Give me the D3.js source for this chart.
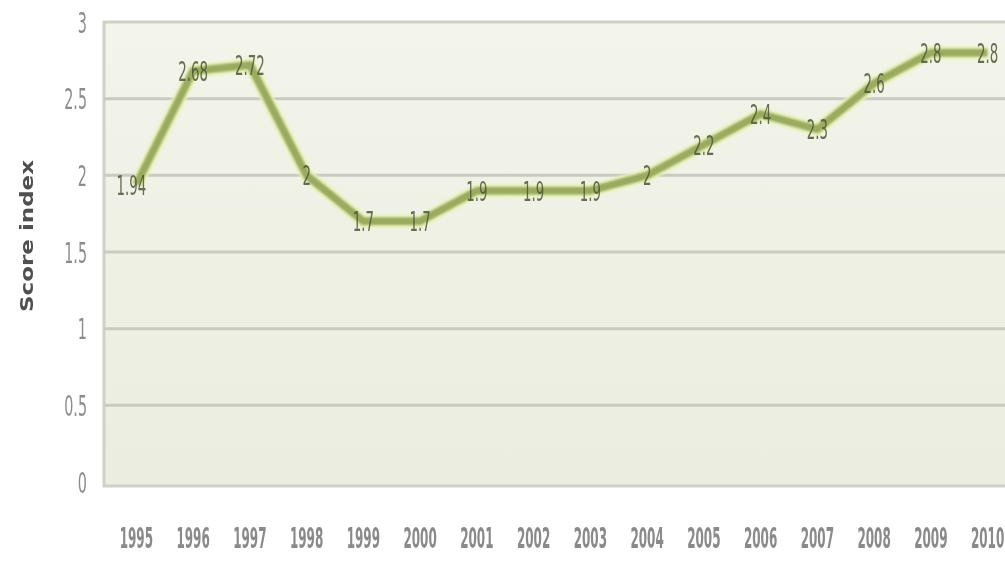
<!DOCTYPE html>
<html>
<head>
<meta charset="utf-8">
<script src="https://cdn.jsdelivr.net/npm/d3@7/dist/d3.min.js"></script>
<style>
  body { margin: 0; background: #fff; }
  svg { display: block; }
  text { font-family: "DejaVu Sans Condensed", "DejaVu Sans", sans-serif; }
</style>
</head>
<body>
<div id="chart"></div>
<script>
var years = ["1995", "1996", "1997", "1998", "1999", "2000", "2001", "2002",
             "2003", "2004", "2005", "2006", "2007", "2008", "2009", "2010"];
var scores = [1.94, 2.68, 2.72, 2, 1.7, 1.7, 1.9, 1.9, 1.9, 2, 2.2, 2.4, 2.3, 2.6, 2.8, 2.8];
var scoreLabels = ["1.94", "2.68", "2.72", "2", "1.7", "1.7", "1.9", "1.9",
                   "1.9", "2", "2.2", "2.4", "2.3", "2.6", "2.8", "2.8"];
var yTicks = [0, 0.5, 1, 1.5, 2, 2.5, 3];
var yTickLabels = ["0", "0.5", "1", "1.5", "2", "2.5", "3"];

var width = 1005, height = 561;
var plotLeft = 104, plotTop = 22, plotBottom = 482;

var svg = d3.select("#chart")
    .append("svg")
    .attr("width", width)
    .attr("height", height);

var defs = svg.append("defs");
var grad = defs.append("linearGradient")
    .attr("id", "bg")
    .attr("x1", 0).attr("y1", 0).attr("x2", 0).attr("y2", 1);
grad.append("stop").attr("offset", "0%").attr("stop-color", "#f3f4ea");
grad.append("stop").attr("offset", "100%").attr("stop-color", "#eaede0");

var soft = defs.append("filter").attr("id", "soft")
    .attr("x", "-5%").attr("y", "-5%").attr("width", "110%").attr("height", "110%");
soft.append("feGaussianBlur").attr("stdDeviation", 0.8);

var blurText = defs.append("filter").attr("id", "blurText");
blurText.append("feGaussianBlur").attr("stdDeviation", 0.55);

var x = d3.scaleBand(years, [108, 1016]);
var y = d3.scaleLinear([0, 3], [plotBottom, plotTop]);

function cx(i) { return x(years[i]) + x.bandwidth() / 2; }

// plot area
svg.append("rect")
    .attr("x", plotLeft)
    .attr("y", plotTop)
    .attr("width", width - plotLeft + 10)
    .attr("height", plotBottom - plotTop + 4)
    .attr("fill", "url(#bg)")
    .attr("stroke", "#cfd0c7")
    .attr("stroke-width", 3);

// gridlines
svg.append("g")
    .selectAll("line")
    .data(yTicks.filter(function (d) { return d > 0 && d < 3; }))
    .enter()
    .append("line")
    .attr("x1", plotLeft)
    .attr("x2", width)
    .attr("y1", function (d) { return y(d); })
    .attr("y2", function (d) { return y(d); })
    .attr("stroke", "#c9cbc1")
    .attr("stroke-width", 3);

// y axis labels (narrow font faked with a horizontal squeeze)
var yAxis = d3.axisLeft(y)
    .tickValues(yTicks)
    .tickSize(0)
    .tickPadding(0)
    .tickFormat(function (d, i) { return yTickLabels[i]; });

svg.append("g")
    .attr("transform", "translate(87,1)")
    .attr("filter", "url(#blurText)")
    .call(yAxis)
    .call(function (g) { g.select(".domain").remove(); })
    .selectAll("text")
    .attr("x", 0)
    .attr("font-size", "29px")
    .attr("fill", "#8c8c8c")
    .attr("transform", "scale(0.55,1)");

// x axis labels
var xAxis = d3.axisBottom(x).tickSize(0).tickPadding(0);
svg.append("g")
    .attr("transform", "translate(0,527)")
    .attr("filter", "url(#blurText)")
    .call(xAxis)
    .call(function (g) { g.select(".domain").remove(); })
    .selectAll("text")
    .attr("font-size", "29px")
    .attr("font-weight", "bold")
    .attr("fill", "#8a8a8a")
    .attr("transform", "scale(0.46,1)");

// y axis title
svg.append("text")
    .attr("transform", "translate(33,236) rotate(-90) scale(1.42,1)")
    .attr("text-anchor", "middle")
    .attr("font-size", "18px")
    .attr("font-weight", "bold")
    .attr("fill", "#505050")
    .attr("filter", "url(#blurText)")
    .text("Score index");

// line
var line = d3.line()
    .x(function (d, i) { return cx(i); })
    .y(function (d) { return y(d); });

var lineG = svg.append("g").attr("filter", "url(#soft)");
lineG.append("path")
    .datum(scores)
    .attr("d", line)
    .attr("fill", "none")
    .attr("stroke", "#e9f2b8")
    .attr("stroke-width", 13)
    .attr("stroke-linejoin", "round");
lineG.append("path")
    .datum(scores)
    .attr("d", line)
    .attr("fill", "none")
    .attr("stroke", "#9aab5f")
    .attr("stroke-width", 8)
    .attr("stroke-linejoin", "round");

// data labels
svg.append("g")
    .attr("filter", "url(#blurText)")
    .selectAll("text")
    .data(scores)
    .enter()
    .append("text")
    .attr("transform", function (d, i) {
        return "translate(" + (cx(i) - (i === 0 ? 5 : 0)) + "," + (y(d) + 10) + ") scale(0.55,1)";
    })
    .attr("text-anchor", "middle")
    .attr("font-size", "27px")
    .attr("fill", "#4a5535")
    .attr("fill-opacity", 0.85)
    .text(function (d, i) { return scoreLabels[i]; });
</script>
</body>
</html>
